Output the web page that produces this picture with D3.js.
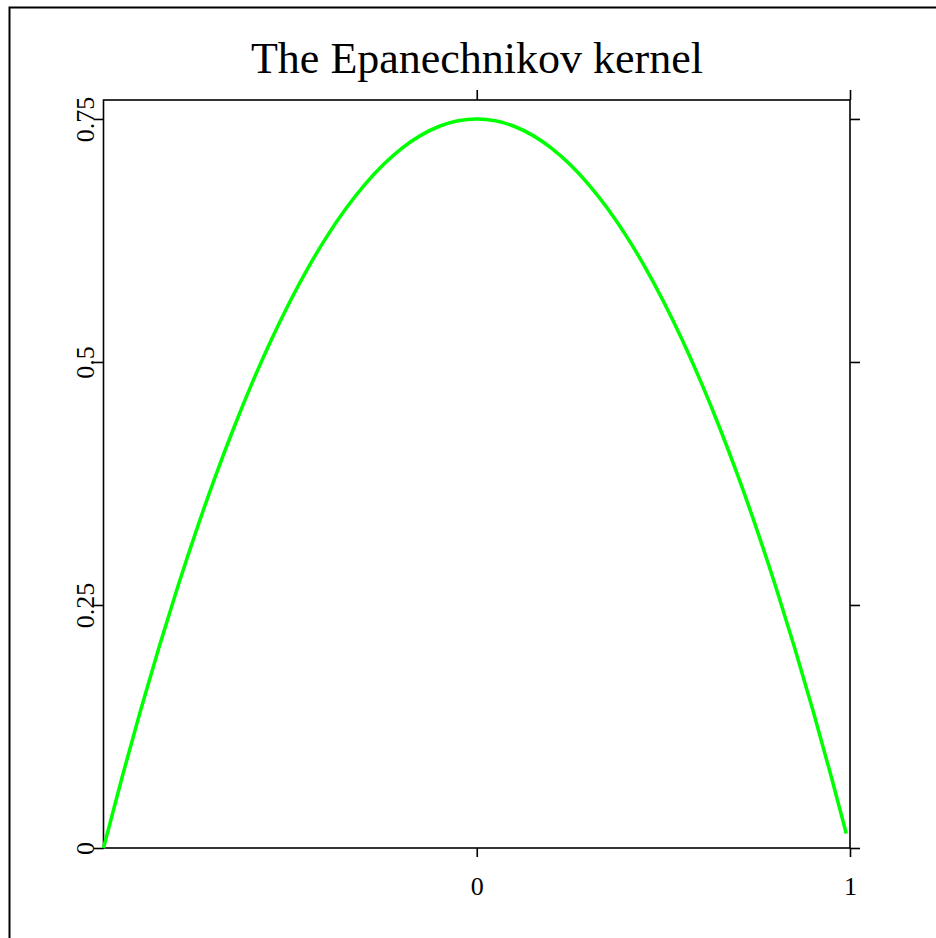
<!DOCTYPE html>
<html>
<head>
<meta charset="utf-8">
<script src="https://cdn.jsdelivr.net/npm/d3@7"></script>
<style>
  html, body { margin: 0; padding: 0; background: #fff; }
  svg { display: block; }
  text { font-family: "Liberation Serif", "Times New Roman", Times, serif; fill: #000; }
</style>
</head>
<body>
<svg id="chart" width="936" height="938"></svg>
<script>
// ---- data ----
const title = "The Epanechnikov kernel";
const xValues = [-1, -0.95, -0.9, -0.85, -0.8, -0.75, -0.7, -0.65, -0.6, -0.55, -0.5,
  -0.45, -0.4, -0.35, -0.3, -0.25, -0.2, -0.15, -0.1, -0.05, 0,
  0.05, 0.1, 0.15, 0.2, 0.25, 0.3, 0.35, 0.4, 0.45, 0.5,
  0.55, 0.6, 0.65, 0.7, 0.75, 0.8, 0.85, 0.9, 0.95, 0.99];
const yValues = [0, 0.0731, 0.1425, 0.2081, 0.27, 0.3281, 0.3825, 0.4331, 0.48, 0.5231, 0.5625,
  0.5981, 0.63, 0.6581, 0.6825, 0.7031, 0.72, 0.7331, 0.7425, 0.7481, 0.75,
  0.7481, 0.7425, 0.7331, 0.72, 0.7031, 0.6825, 0.6581, 0.63, 0.5981, 0.5625,
  0.5231, 0.48, 0.4331, 0.3825, 0.3281, 0.27, 0.2081, 0.1425, 0.0731, 0.0149];
const xTicks = [0, 1];
const xTickLabels = ["0", "1"];
const yTicks = [0, 0.25, 0.5, 0.75];
const yTickLabels = ["0", "0.25", "0.5", "0.75"];

// ---- layout ----
const svg = d3.select("#chart");
const pLeft = 103.5, pRight = 850, pTop = 100, pBottom = 848;
const x = d3.scaleLinear().domain([-1, 1]).range([pLeft, pRight]);
const y = d3.scaleLinear().domain([0, 0.7695]).range([pBottom, pTop]);

// outer border (only top and left edges visible)
svg.append("rect")
  .attr("x", 9.5).attr("y", 7.5).attr("width", 1000).attr("height", 1000)
  .attr("fill", "none").attr("stroke", "#000").attr("stroke-width", 2);

// title
svg.append("text")
  .attr("x", 477).attr("y", 73)
  .attr("text-anchor", "middle")
  .attr("font-size", 44)
  .text(title);

// axes
function styleAxis(g) {
  g.select(".domain").remove();
  g.selectAll(".tick line").attr("stroke", "#000").attr("stroke-width", 1.6);
  g.selectAll("text").attr("font-family", "\"Liberation Serif\", \"Times New Roman\", serif")
    .attr("font-size", 26).attr("fill", "#000");
}

const yLeft = svg.append("g").attr("transform", `translate(${pLeft},0)`)
  .call(d3.axisLeft(y).tickValues(yTicks).tickSize(10).tickPadding(0)
    .tickFormat((d, i) => yTickLabels[i]));
styleAxis(yLeft);
yLeft.selectAll("text")
  .attr("transform", "rotate(-90)")
  .attr("x", 0).attr("y", -10).attr("dy", 0)
  .attr("text-anchor", "middle");

const yRight = svg.append("g").attr("transform", `translate(${pRight},0)`)
  .call(d3.axisRight(y).tickValues(yTicks).tickSize(10).tickFormat(""));
styleAxis(yRight);

const xBottom = svg.append("g").attr("transform", `translate(0,${pBottom})`)
  .call(d3.axisBottom(x).tickValues(xTicks).tickSize(9).tickPadding(0)
    .tickFormat((d, i) => xTickLabels[i]));
styleAxis(xBottom);
xBottom.selectAll("text").attr("y", 47).attr("dy", 0);

const xTop = svg.append("g").attr("transform", `translate(0,${pTop})`)
  .call(d3.axisTop(x).tickValues(xTicks).tickSize(10).tickFormat(""));
styleAxis(xTop);

// plot frame
svg.append("rect")
  .attr("x", pLeft).attr("y", pTop)
  .attr("width", pRight - pLeft).attr("height", pBottom - pTop)
  .attr("fill", "none").attr("stroke", "#000").attr("stroke-width", 1.6);

// curve
const pts = xValues.map((v, i) => [v, yValues[i]]);
svg.append("path")
  .datum(pts)
  .attr("fill", "none")
  .attr("stroke", "#00ff00")
  .attr("stroke-width", 3.5)
  .attr("stroke-linejoin", "round")
  .attr("d", d3.line().x(d => x(d[0])).y(d => y(d[1])).curve(d3.curveMonotoneX));
</script>
</body>
</html>
